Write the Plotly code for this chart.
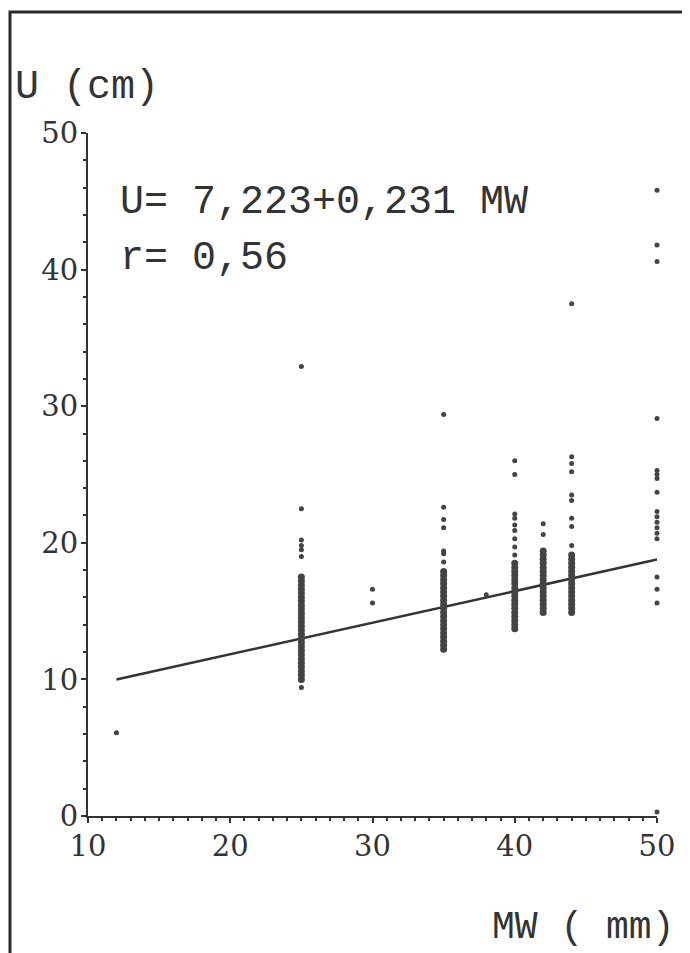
import plotly.graph_objects as go

# ---- data ----
mw_groups = [12, 25, 30, 35, 38, 40, 42, 44, 50]

# scattered single observations per MW group
u_12_sparse = [6.1]
u_25_sparse = [32.9, 22.5, 20.2, 19.8, 19.5, 19.0, 9.4]
u_30_sparse = [16.6, 15.6]
u_35_sparse = [29.4, 22.6, 21.7, 21.1, 19.4, 19.2, 18.6]
u_38_sparse = [16.2]
u_40_sparse = [26.0, 25.0, 22.1, 21.8, 21.3, 20.9, 20.3, 19.7, 19.1]
u_42_sparse = [21.4, 20.6]
u_44_sparse = [37.5, 26.3, 25.8, 25.2, 23.5, 23.1, 21.8, 21.2, 19.8]
u_50_sparse = [45.8, 41.8, 40.6, 29.1, 25.3, 25.0, 24.7, 23.7, 22.3, 21.9,
               21.5, 21.1, 20.7, 20.3, 17.5, 16.6, 15.6, 0.3]

# densely overlapping observations per MW group
u_12_dense = []
u_25_dense = [10.0, 10.3, 10.6, 10.9, 11.2, 11.5, 11.8, 12.1, 12.4, 12.7,
              13.0, 13.3, 13.6, 13.9, 14.2, 14.5, 14.8, 15.1, 15.4, 15.7,
              16.0, 16.3, 16.6, 16.9, 17.2, 17.5]
u_30_dense = []
u_35_dense = [12.2, 12.5, 12.8, 13.1, 13.4, 13.7, 14.0, 14.3, 14.6, 14.9,
              15.2, 15.5, 15.8, 16.1, 16.4, 16.7, 17.0, 17.3, 17.6, 17.9]
u_38_dense = []
u_40_dense = [13.7, 14.0, 14.3, 14.6, 14.9, 15.2, 15.5, 15.8, 16.1, 16.4,
              16.7, 17.0, 17.3, 17.6, 17.9, 18.2, 18.5]
u_42_dense = [14.9, 15.2, 15.5, 15.8, 16.1, 16.4, 16.7, 17.0, 17.3, 17.6,
              17.9, 18.2, 18.5, 18.8, 19.1, 19.4]
u_44_dense = [14.9, 15.2, 15.5, 15.8, 16.1, 16.4, 16.7, 17.0, 17.3, 17.6,
              17.9, 18.2, 18.5, 18.8, 19.1]
u_50_dense = []

sparse_lists = [u_12_sparse, u_25_sparse, u_30_sparse, u_35_sparse, u_38_sparse,
                u_40_sparse, u_42_sparse, u_44_sparse, u_50_sparse]
dense_lists = [u_12_dense, u_25_dense, u_30_dense, u_35_dense, u_38_dense,
               u_40_dense, u_42_dense, u_44_dense, u_50_dense]

# regression U = a + b * MW
reg_a = 7.223
reg_b = 0.231
reg_mw = [12, 50]

x_ticks = [10, 20, 30, 40, 50]
y_ticks = [0, 10, 20, 30, 40, 50]

# ---- build ----
def flatten(lists):
    xs, ys = [], []
    for mw, us in zip(mw_groups, lists):
        xs += [mw] * len(us)
        ys += us
    return xs, ys

sx, sy = flatten(sparse_lists)
dx, dy = flatten(dense_lists)
reg_u = [reg_a + reg_b * m for m in reg_mw]

INK = "#333333"
TICKFONT = dict(family="DejaVu Serif", size=29, color=INK)
TEXTFONT = dict(family="Liberation Mono", size=40, color=INK)

fig = go.Figure()
fig.add_trace(go.Scatter(x=reg_mw, y=reg_u, mode="lines",
                         line=dict(color=INK, width=2.5), cliponaxis=False,
                         hoverinfo="skip", showlegend=False))
fig.add_trace(go.Scatter(x=dx, y=dy, mode="markers",
                         marker=dict(color="#444444", size=7),
                         cliponaxis=False, showlegend=False))
fig.add_trace(go.Scatter(x=sx, y=sy, mode="markers",
                         marker=dict(color="#444444", size=5),
                         cliponaxis=False, showlegend=False))

# the page body has an 8px margin, so the figure starts at (8, 8)
OFF = 8
W, H = 690 - OFF, 953 - OFF
L, R, T, B = 88 - OFF, 33, 133 - OFF, 137
pw, ph = W - L - R, H - T - B

def px(x):
    return (x - OFF - L) / pw

def py(y):
    return (H - B - (y - OFF)) / ph

axis_common = dict(showgrid=False, zeroline=False, showline=True,
                   linecolor=INK, linewidth=2, ticks="outside", ticklen=5,
                   tickwidth=1.5, tickcolor=INK, tickfont=TICKFONT)

fig.update_layout(
    width=W, height=H,
    margin=dict(l=L, r=R, t=T, b=B, pad=0),
    paper_bgcolor="white", plot_bgcolor="white",
    xaxis=dict(range=[10, 50], tickvals=x_ticks, ticklabelstandoff=-2,
               minor=dict(dtick=1, ticks="outside", ticklen=3, tickcolor=INK),
               **axis_common),
    yaxis=dict(range=[0, 50], tickvals=y_ticks, ticklabelstandoff=-3,
               minor=dict(dtick=2, ticks="outside", ticklen=3, tickcolor=INK),
               **axis_common),
    shapes=[dict(type="rect", xref="paper", yref="paper",
                 x0=px(10), x1=px(686), y0=py(12), y1=py(1010),
                 line=dict(color="#2a2a2a", width=3), layer="above")],
    annotations=[
        dict(text="U (cm)", xref="paper", yref="paper", x=px(13), y=py(88),
             xanchor="left", yanchor="middle", showarrow=False, font=TEXTFONT),
        dict(text="U= 7,223+0,231 MW", xref="paper", yref="paper",
             x=px(118), y=py(203), xanchor="left", yanchor="middle",
             showarrow=False, font=TEXTFONT),
        dict(text="r= 0,56", xref="paper", yref="paper",
             x=px(118), y=py(259), xanchor="left", yanchor="middle",
             showarrow=False, font=TEXTFONT),
        dict(text="MW ( mm)", xref="paper", yref="paper", x=px(676), y=py(927),
             xanchor="right", yanchor="middle", showarrow=False,
             font=dict(family="Liberation Mono", size=38, color=INK)),
    ],
)

fig.write_html("out.html")
